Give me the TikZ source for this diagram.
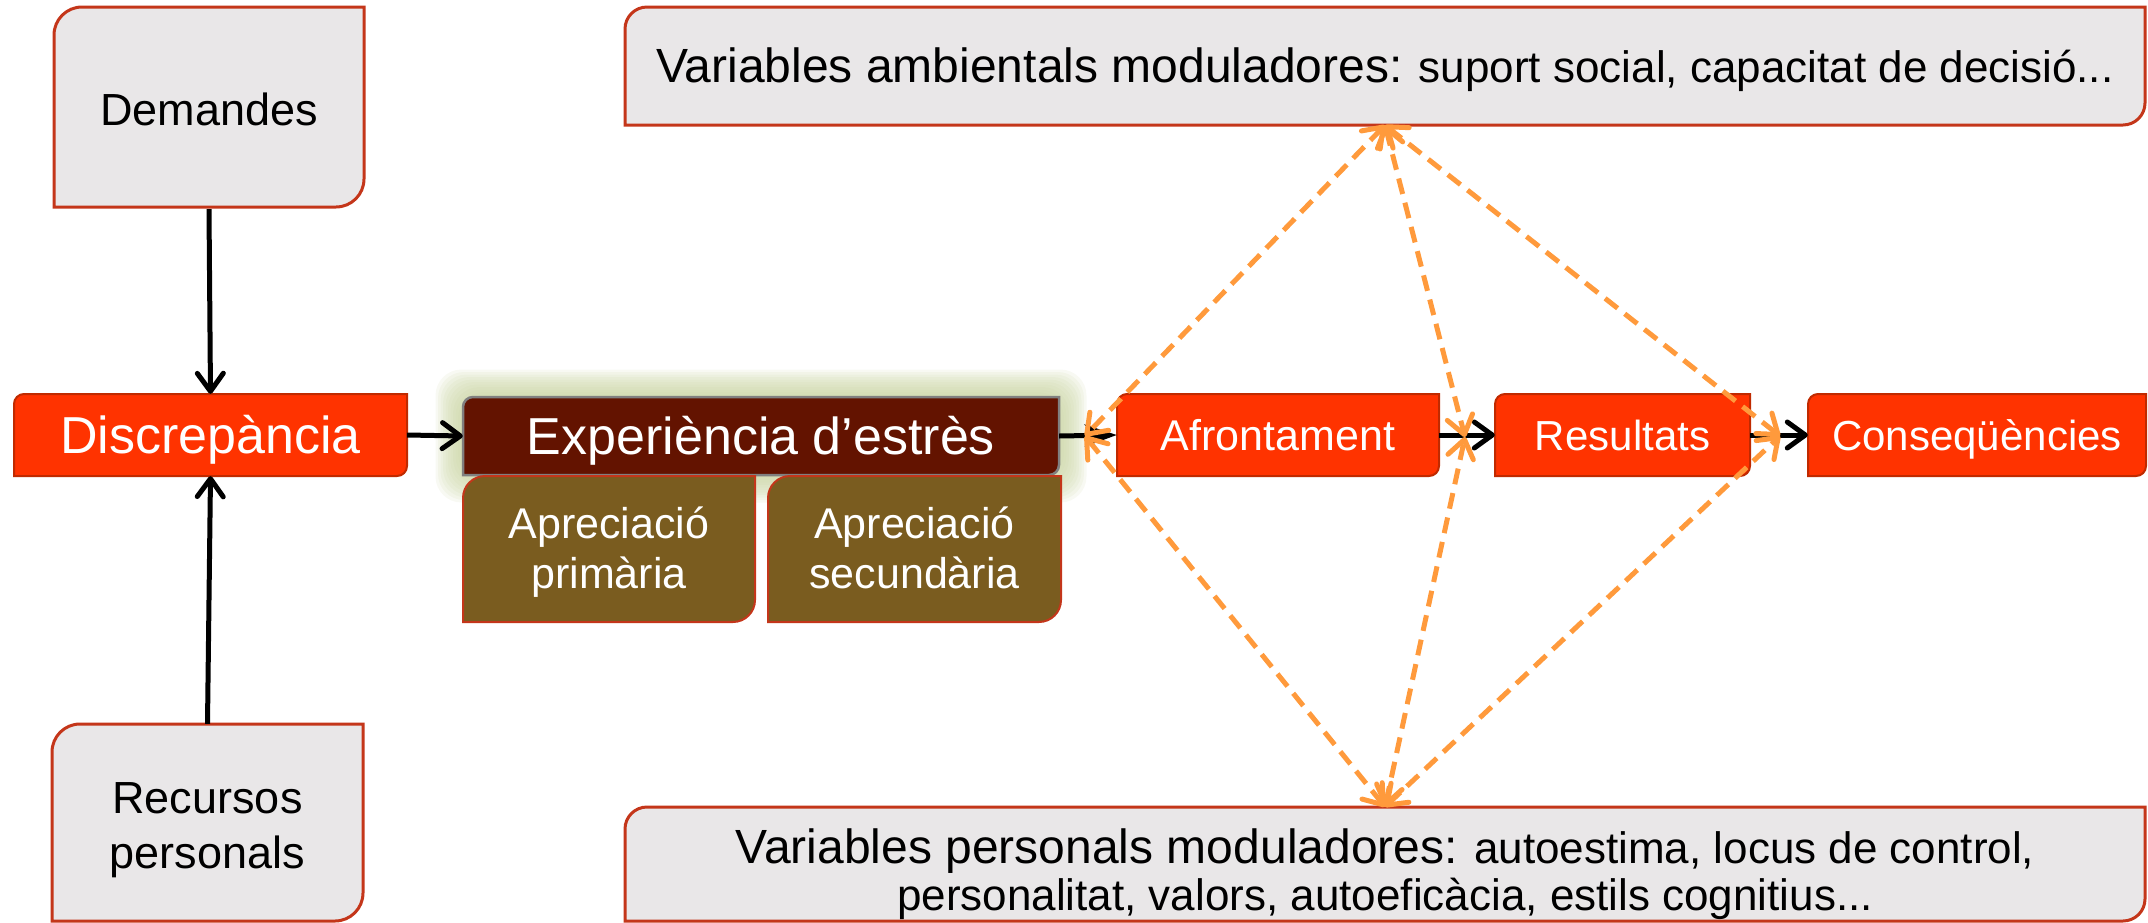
\documentclass[tikz,border=0pt]{standalone}
\usepackage{fontspec}
\setmainfont{Liberation Sans}
\usetikzlibrary{arrows.meta}
\definecolor{boxgray}{HTML}{E9E7E8}
\definecolor{boxline}{HTML}{C4361A}
\definecolor{hotred}{HTML}{FF3300}
\definecolor{redline}{HTML}{C02A00}
\definecolor{darkred}{HTML}{631300}
\definecolor{olivebox}{HTML}{7A5C1F}
\definecolor{orng}{HTML}{FF9A3C}
\definecolor{glowc}{HTML}{C8D3A0}
% x1 y1 x2 y2 r style : box with rounded top-left and bottom-right corners
\newcommand\leafshape[6]{%
  \path[#6] (#1,#4) -- (#1,{#2+#5}) .. controls (#1,{#2+0.448*#5}) and ({#1+0.448*#5},#2) .. ({#1+#5},#2)
    -- (#3,#2) -- (#3,{#4-#5}) .. controls (#3,{#4-0.448*#5}) and ({#3-0.448*#5},#4) .. ({#3-#5},#4) -- cycle;}
\begin{document}
\begin{tikzpicture}[x=1pt,y=-1pt,
  txt/.style={inner sep=0pt, align=center},
  wt/.style={text=white},
  fA/.style={font=\fontsize{45pt}{55pt}\selectfont},
  fB/.style={font=\fontsize{52pt}{60pt}\selectfont, text height=37.2pt, text depth=0pt},
  fC/.style={font=\fontsize{43pt}{50pt}\selectfont},
  fCone/.style={font=\fontsize{43pt}{50pt}\selectfont, text height=30.8pt, text depth=0pt},
  fD/.style={font=\fontsize{42pt}{50pt}\selectfont, text height=30pt, text depth=0pt},
  graybox/.style={fill=boxgray, draw=boxline, line width=3pt},
  redbox/.style={fill=hotred, draw=redline, line width=2pt},
  expbox/.style={fill=darkred, draw=gray, line width=2.5pt},
  olbox/.style={fill=olivebox, draw=boxline, line width=2pt},
  blk/.style={draw=black, line width=5pt, -{Straight Barb[round,length=18pt,width=26pt]}},
  blkS/.style={draw=black, line width=5pt, -{Stealth[length=32pt,width=22pt,inset=9pt]}},
  orn/.style={draw=orng, line width=5pt, dash pattern=on 16pt off 9pt,
    {Straight Barb[round,length=18pt,width=26pt]}-{Straight Barb[round,length=18pt,width=26pt]}}]
\useasboundingbox (0,0) rectangle (2148,922);
% glow behind the stress box
\foreach \g in {1,...,11}{
  \fill[glowc, opacity=0.13, rounded corners=26pt] ({463-2.5*\g},{397-2.5*\g}) rectangle ({1059+2.5*\g},{475+2.5*\g});}
% boxes
\leafshape{54}{7}{364}{207}{28}{graybox}
\node[txt,fA,text height=32.2pt,text depth=0pt,minimum width=310pt,minimum height=200pt] (dem) at (209,109) {Demandes};
\leafshape{52}{724}{363}{921}{28}{graybox}
\node[txt,fA,minimum width=311pt,minimum height=211pt] (rec) at (207.5,829.5) {Recursos\strut\\personals\strut};
\leafshape{14}{394}{407}{476}{10}{redbox}
\node[txt,wt,fB,minimum width=393pt,minimum height=82pt] (dis) at (210.5,435) {Discrepància};
\leafshape{463}{397}{1059}{475}{10}{expbox}
\node[txt,wt,fB,minimum width=596pt,minimum height=78pt] (exp) at (761,436) {Experiència d’estrès};
\leafshape{463}{476}{755}{622}{22}{olbox}
\node[txt,wt,fC,minimum width=292pt,minimum height=146pt] (ap1) at (609,553) {Apreciació\strut\\primària\strut};
\leafshape{768}{476}{1061}{622}{22}{olbox}
\node[txt,wt,fC,minimum width=293pt,minimum height=146pt] (ap2) at (914.5,553) {Apreciació\strut\\secundària\strut};
\leafshape{1117}{394}{1439}{476}{10}{redbox}
\node[txt,wt,fCone,minimum width=322pt,minimum height=82pt] (afr) at (1278,435) {Afrontament};
\leafshape{1495}{394}{1750}{476}{10}{redbox}
\node[txt,wt,fD,minimum width=255pt,minimum height=82pt] (res) at (1622.5,435) {Resultats};
\leafshape{1808}{394}{2146}{476}{10}{redbox}
\node[txt,wt,fD,minimum width=338pt,minimum height=82pt] (con) at (1977,435) {Conseqüències};
\leafshape{625}{7}{2145}{125}{22}{graybox}
\node[txt,minimum width=1520pt,minimum height=120pt,text height=34.4pt,text depth=0pt,
  font=\fontsize{44pt}{52pt}\selectfont] (amb) at (1385,65)
  {{\fontsize{48pt}{56pt}\selectfont Variables ambientals moduladores:} suport social, capacitat de decisió...};
\leafshape{625}{807}{2145}{921}{22}{graybox}
\node[txt,minimum width=1520pt,minimum height=139pt,font=\fontsize{44pt}{45pt}\selectfont] (pers) at (1385,876.5)
  {{\fontsize{48pt}{45pt}\selectfont Variables personals moduladores:} autoestima, locus de control,\strut\\
   personalitat, valors, autoeficàcia, estils cognitius...\strut};
% black connectors
\draw[blk] (dem.south) -- (dis.north);
\draw[blk] (rec.north) -- (dis.south);
\draw[blk] (dis.east) -- (exp.west);
\draw[blkS] (exp.east) -- (afr.west);
\draw[blk] (afr.east) -- (res.west);
\draw[blk] (res.east) -- (con.west);
% orange modulating arrows
\coordinate (p1) at (1085,436);
\coordinate (p2) at (1465,437);
\coordinate (p3) at (1780,436);
\foreach \p in {p1,p2,p3}{
  \draw[orn] (amb.south) -- (\p);
  \draw[orn] (pers.north) -- (\p);}
\end{tikzpicture}
\end{document}
